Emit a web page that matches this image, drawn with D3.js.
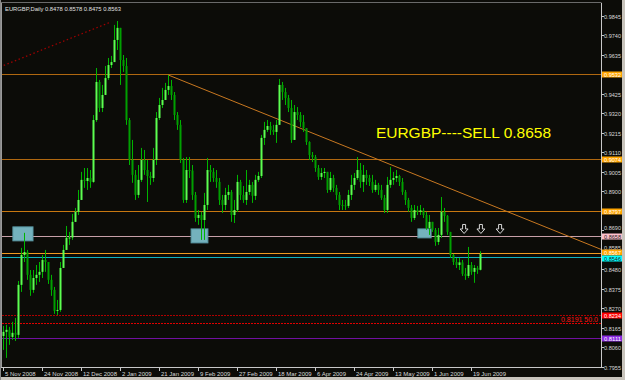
<!DOCTYPE html>
<html>
<head>
<meta charset="utf-8">
<script src="https://cdn.jsdelivr.net/npm/d3@7"></script>
<style>
  html, body { margin: 0; padding: 0; background: #0c0c08; }
  svg { display: block; }
  text { font-family: "Liberation Sans", Arial, sans-serif; }
</style>
</head>
<body>
<svg id="chart" width="625" height="380"></svg>
<script>
var symbol = "EURGBP,Daily";

var opens = [
0.8122,0.8144,0.8155,0.8117,0.8139,0.8128,0.8397,0.8558,0.8574,0.8451,
0.8370,0.8434,0.8451,0.8467,0.8531,0.8520,0.8424,0.8370,0.8257,0.8262,
0.8488,0.8585,0.8650,0.8652,0.8736,0.8790,0.8854,0.8962,0.8956,0.8972,
0.8951,0.9284,0.9489,0.9349,0.9419,0.9510,0.9580,0.9596,0.9715,0.9780,
0.9607,0.9575,0.9284,0.9069,0.8989,0.8881,0.8962,0.9069,0.9015,0.8983,
0.8972,0.9069,0.9295,0.9365,0.9392,0.9446,0.9467,0.9419,0.9311,0.9258,
0.9069,0.8854,0.9015,0.9012,0.8881,0.8757,0.8773,0.8746,0.8827,0.9015,
0.9005,0.8972,0.8951,0.8854,0.8827,0.8881,0.8897,0.8773,0.8800,0.8951,
0.8881,0.8854,0.8897,0.8935,0.8876,0.8962,0.8983,0.9188,0.9231,0.9252,
0.9231,0.9220,0.9258,0.9473,0.9435,0.9403,0.9349,0.9177,0.9327,0.9311,
0.9274,0.9241,0.9166,0.9096,0.9085,0.9026,0.8978,0.8999,0.9005,0.8908,
0.8972,0.8919,0.8881,0.8827,0.8825,0.8822,0.8881,0.8935,0.8972,0.9015,
0.8951,0.8989,0.8972,0.8951,0.8908,0.8935,0.8908,0.8865,0.8800,0.8935,
0.8962,0.8972,0.8983,0.8951,0.8897,0.8854,0.8811,0.8757,0.8800,0.8790,
0.8798,0.8773,0.8703,0.8736,0.8693,0.8628,0.8666,0.8790,0.8768,0.8682,
0.8558,0.8520,0.8504,0.8518,0.8456,0.8445,0.8504,0.8467,0.8488,0.8478];

var highs = [
0.8176,0.8182,0.8171,0.8198,0.8219,0.8418,0.8596,0.8677,0.8585,0.8477,
0.8477,0.8504,0.8520,0.8558,0.8585,0.8520,0.8451,0.8386,0.8316,0.8520,
0.8612,0.8714,0.8682,0.8779,0.8811,0.8908,0.9005,0.9026,0.9026,0.9015,
0.9311,0.9564,0.9500,0.9473,0.9575,0.9618,0.9629,0.9796,0.9817,0.9780,
0.9634,0.9618,0.9295,0.9177,0.9015,0.9042,0.9134,0.9123,0.9069,0.9005,
0.9134,0.9327,0.9403,0.9457,0.9484,0.9527,0.9500,0.9435,0.9327,0.9284,
0.9080,0.9085,0.9085,0.9042,0.8897,0.8800,0.8790,0.8892,0.9080,0.9042,
0.9026,0.9015,0.8972,0.8881,0.8919,0.8935,0.8908,0.8854,0.8989,0.8962,
0.8929,0.9015,0.8962,0.8951,0.8989,0.9005,0.9204,0.9274,0.9284,0.9274,
0.9258,0.9284,0.9505,0.9489,0.9457,0.9419,0.9392,0.9365,0.9354,0.9327,
0.9311,0.9241,0.9170,0.9112,0.9096,0.9042,0.9026,0.9026,0.9005,0.9005,
0.8989,0.8935,0.8897,0.8854,0.8854,0.8908,0.8989,0.8999,0.9085,0.9053,
0.9042,0.9015,0.8989,0.8989,0.8962,0.8946,0.8935,0.8881,0.8978,0.9032,
0.9005,0.9015,0.8989,0.8972,0.8908,0.8865,0.8827,0.8827,0.8822,0.8827,
0.8811,0.8790,0.8773,0.8736,0.8703,0.8703,0.8870,0.8811,0.8773,0.8682,
0.8564,0.8542,0.8542,0.8531,0.8488,0.8601,0.8520,0.8504,0.8499,0.8578];

var lows = [
0.8047,0.8004,0.8074,0.8101,0.8095,0.8112,0.8359,0.8520,0.8424,0.8338,
0.8354,0.8397,0.8413,0.8434,0.8467,0.8402,0.8338,0.8241,0.8235,0.8252,
0.8488,0.8585,0.8612,0.8639,0.8736,0.8773,0.8854,0.8919,0.8908,0.8919,
0.8946,0.9274,0.9327,0.9327,0.9419,0.9500,0.9564,0.9596,0.9661,0.9473,
0.9543,0.9258,0.9042,0.8946,0.8854,0.8865,0.8951,0.8989,0.8843,0.8935,
0.8951,0.9042,0.9284,0.9349,0.9392,0.9419,0.9392,0.9284,0.9231,0.9053,
0.8838,0.8838,0.8972,0.8854,0.8736,0.8720,0.8639,0.8639,0.8800,0.8951,
0.8951,0.8919,0.8827,0.8784,0.8800,0.8854,0.8736,0.8730,0.8790,0.8854,
0.8838,0.8827,0.8881,0.8838,0.8854,0.8951,0.8972,0.9150,0.9220,0.9204,
0.9204,0.9161,0.9258,0.9392,0.9365,0.9327,0.9161,0.9177,0.9284,0.9247,
0.9220,0.9150,0.9069,0.9058,0.9005,0.8962,0.8962,0.8972,0.8892,0.8897,
0.8897,0.8854,0.8800,0.8800,0.8800,0.8811,0.8854,0.8908,0.8962,0.8919,
0.8897,0.8935,0.8929,0.8892,0.8897,0.8881,0.8854,0.8784,0.8784,0.8919,
0.8935,0.8951,0.8929,0.8881,0.8827,0.8790,0.8736,0.8746,0.8773,0.8773,
0.8757,0.8693,0.8666,0.8682,0.8607,0.8612,0.8650,0.8736,0.8666,0.8542,
0.8504,0.8488,0.8477,0.8445,0.8424,0.8434,0.8451,0.8408,0.8456,0.8475];

var closes = [
0.8144,0.8155,0.8117,0.8139,0.8128,0.8397,0.8558,0.8574,0.8451,0.8370,
0.8434,0.8451,0.8467,0.8531,0.8520,0.8424,0.8370,0.8257,0.8262,0.8488,
0.8585,0.8650,0.8652,0.8736,0.8790,0.8854,0.8962,0.8956,0.8972,0.8951,
0.9284,0.9489,0.9349,0.9419,0.9510,0.9580,0.9596,0.9715,0.9780,0.9607,
0.9575,0.9284,0.9069,0.8989,0.8881,0.8962,0.9069,0.9015,0.8983,0.8972,
0.9069,0.9295,0.9365,0.9392,0.9446,0.9467,0.9419,0.9311,0.9258,0.9069,
0.8854,0.9015,0.9012,0.8881,0.8757,0.8773,0.8746,0.8827,0.9015,0.9005,
0.8972,0.8951,0.8854,0.8827,0.8881,0.8897,0.8773,0.8800,0.8951,0.8881,
0.8854,0.8897,0.8935,0.8876,0.8962,0.8983,0.9188,0.9231,0.9252,0.9231,
0.9220,0.9258,0.9473,0.9435,0.9403,0.9349,0.9177,0.9327,0.9311,0.9274,
0.9241,0.9166,0.9096,0.9085,0.9026,0.8978,0.8999,0.9005,0.8908,0.8972,
0.8919,0.8881,0.8827,0.8825,0.8822,0.8881,0.8935,0.8972,0.9015,0.8951,
0.8989,0.8972,0.8951,0.8908,0.8935,0.8908,0.8865,0.8800,0.8935,0.8962,
0.8972,0.8983,0.8951,0.8897,0.8854,0.8811,0.8757,0.8800,0.8790,0.8798,
0.8773,0.8703,0.8736,0.8693,0.8628,0.8666,0.8790,0.8768,0.8682,0.8558,
0.8520,0.8504,0.8518,0.8456,0.8445,0.8504,0.8467,0.8488,0.8478,0.8563];

// price axis labels
var priceTicks = [0.9845,0.9740,0.9635,0.9530,0.9425,0.9320,0.9215,0.9110,0.9005,
  0.8900,0.8795,0.8690,0.8585,0.8480,0.8375,0.8270,0.8165,0.8060,0.7955];

// time axis labels, one every 13 bars
var dateTickBars = [0,13,26,39,52,65,78,91,104,117,130,143,156];
var dateTickLabels = ["5 Nov 2008","24 Nov 2008","12 Dec 2008","2 Jan 2009","21 Jan 2009",
  "9 Feb 2009","27 Feb 2009","18 Mar 2009","6 Apr 2009","24 Apr 2009","13 May 2009",
  "1 Jun 2009","19 Jun 2009"];

// horizontal lines drawn on the chart
var levelPrices = [0.9532,0.9074,0.8797,0.8658,0.8567,0.8546,0.8234,0.8111];
var levelColors = ["#b06810","#b06810","#c87810","#c8a0a8","#f09a20","#10b4c0","#b00000","#7010a0"];
var levelBoxColors = ["#ffa500","#ffa500","#ffa500","#ffc0cb","#ffa500","#00ffff","#ff0000","#8a2be2"];
var levelTextColors = ["#ffffff","#ffffff","#ffffff","#202020","#ffffff","#202020","#ffffff","#ffffff"];

// fibonacci 50% level and its base line
var fibLevel = 0.8191;
var fibLabel = "0.8191  50.0";
var fibLineBars = [-1, 36];
var fibLinePrices = [0.9570, 0.9812];

// resistance trendline (ray)
var trendBars = [55, 144];
var trendPrices = [0.9527, 0.8948];

// highlighted zones
var zoneBars0 = [3.3, 62.7, 138.3];
var zoneBars1 = [10, 68.3, 142.7];
var zoneTop = [0.8709, 0.8698, 0.8698];
var zoneBottom = [0.8634, 0.8623, 0.8650];

// sell arrows
var arrowBars = [153.7, 159.3, 165.7];
var arrowPrice = 0.8722;

var note = "EURGBP----SELL 0.8658";
var noteBar = 124.3;
var notePrice = 0.9190;

var W = 625, H = 380;
var pL = 2, pR = 601, pT = 3, pB = 367;

var svg = d3.select("#chart");
var x = d3.scaleLinear().domain([0, 160]).range([3, 483]);
var y = d3.scaleLinear().domain([0.7955, 0.9845]).range([367, 15.8]);

svg.append("rect").attr("width", W).attr("height", H).attr("fill", "#0c0c08");

svg.append("defs").append("clipPath").attr("id", "plot")
  .append("rect").attr("x", pL).attr("y", pT)
  .attr("width", pR - pL).attr("height", pB - pT);

var plot = svg.append("g").attr("clip-path", "url(#plot)");

// horizontal levels
levelPrices.forEach(function(p, i){
  var yy = Math.round(y(p)) + 0.5;
  plot.append("line")
    .attr("x1", pL).attr("x2", pR)
    .attr("y1", yy).attr("y2", yy)
    .attr("stroke", levelColors[i])
    .attr("shape-rendering", "crispEdges")
    .attr("stroke-dasharray", i == 6 ? "2,1" : null);
});

var fy = Math.round(y(fibLevel)) + 0.5;
plot.append("line")
  .attr("x1", pL).attr("x2", pR).attr("y1", fy).attr("y2", fy)
  .attr("stroke", "#e00000").attr("stroke-dasharray", "2,1")
  .attr("shape-rendering", "crispEdges");

plot.append("text")
  .attr("x", 598).attr("y", fy - 1.5)
  .attr("text-anchor", "end")
  .attr("font-size", 7)
  .attr("fill", "#ff1010")
  .text(fibLabel);

plot.append("line")
  .attr("x1", x(fibLineBars[0])).attr("y1", y(fibLinePrices[0]))
  .attr("x2", x(fibLineBars[1])).attr("y2", y(fibLinePrices[1]))
  .attr("stroke", "#a00000").attr("stroke-width", 1.2)
  .attr("stroke-dasharray", "1.5,2.5");

// zones
zoneBars0.forEach(function(b, i){
  plot.append("rect")
    .attr("x", x(b)).attr("y", y(zoneTop[i]))
    .attr("width", x(zoneBars1[i]) - x(b))
    .attr("height", y(zoneBottom[i]) - y(zoneTop[i]))
    .attr("fill", "#74b2bd")
    .attr("stroke", "#5b9aa6");
});

// trendline ray to the right edge
var slope = (trendPrices[1] - trendPrices[0]) / (trendBars[1] - trendBars[0]);
var endBar = x.invert(pR);
plot.append("line")
  .attr("x1", x(trendBars[0])).attr("y1", y(trendPrices[0]))
  .attr("x2", pR).attr("y2", y(trendPrices[0] + slope * (endBar - trendBars[0])))
  .attr("stroke", "#c87820");

// candles
var bars = d3.range(closes.length);
var g = plot.selectAll("g.bar").data(bars).enter().append("g").attr("class", "bar");

g.append("line")
  .attr("x1", function(i){ return Math.round(x(i)) + 0.5; })
  .attr("x2", function(i){ return Math.round(x(i)) + 0.5; })
  .attr("y1", function(i){ return y(highs[i]); })
  .attr("y2", function(i){ return y(lows[i]); })
  .attr("stroke", "#00b400");

g.append("rect")
  .attr("x", function(i){ return Math.round(x(i)) - 0.5; })
  .attr("width", 2)
  .attr("y", function(i){ return y(Math.max(opens[i], closes[i])); })
  .attr("height", function(i){ return Math.max(1, Math.abs(y(opens[i]) - y(closes[i]))); })
  .attr("fill", function(i){ return closes[i] >= opens[i] ? "#5cff50" : "#00a000"; });

// sell arrows
arrowBars.forEach(function(b){
  var cx = x(b), t = y(arrowPrice);
  plot.append("path")
    .attr("d", "M" + (cx - 1.5) + "," + t + "h3v4.5h2.5l-4,4.5l-4,-4.5h2.5z")
    .attr("fill", "none")
    .attr("stroke", "#d8d8d8");
});

// text note
plot.append("text")
  .attr("x", x(noteBar)).attr("y", y(notePrice))
  .attr("font-size", 15.5)
  .attr("fill", "#ffff00")
  .text(note);

// header
svg.append("text")
  .attr("x", 5).attr("y", 10.5)
  .attr("font-size", 6)
  .attr("fill", "#e0e0e0")
  .attr("textLength", 116).attr("lengthAdjust", "spacingAndGlyphs")
  .text(symbol + "  " + [opens, highs, lows, closes].map(function(a){ return a[a.length - 1].toFixed(4); }).join(" "));

// frame
svg.append("line").attr("x1", 1.5).attr("x2", 1.5).attr("y1", pT).attr("y2", pB)
  .attr("stroke", "#9a9a9a");
svg.append("line").attr("x1", pR + 0.5).attr("x2", pR + 0.5).attr("y1", pT).attr("y2", pB + 0.5)
  .attr("stroke", "#c8c8c8");
svg.append("line").attr("x1", 1).attr("x2", pR + 0.5).attr("y1", pB + 0.5).attr("y2", pB + 0.5)
  .attr("stroke", "#c8c8c8");
svg.append("line").attr("x1", 1).attr("x2", pR + 0.5).attr("y1", pT - 0.5).attr("y2", pT - 0.5)
  .attr("stroke", "#6a6a6a");

// price axis
var pa = svg.append("g");
priceTicks.forEach(function(p){
  var yy = Math.round(y(p)) + 0.5;
  pa.append("line").attr("x1", pR).attr("x2", pR + 3).attr("y1", yy).attr("y2", yy)
    .attr("stroke", "#c8c8c8");
  // skip labels that sit under a highlighted level box
  var near = d3.min(levelPrices, function(l){ return Math.abs(y(l) - y(p)); });
  if (near < 2) return;
  var ty = near < 6 ? yy - 3 : yy;
  pa.append("text").attr("x", pR + 3).attr("y", ty + 2)
    .attr("font-size", 5.8).attr("fill", "#d8d8d8")
    .attr("textLength", 17).attr("lengthAdjust", "spacingAndGlyphs")
    .text(p.toFixed(4));
});

// level boxes, nudged apart when two levels sit close together
var boxY = levelPrices.map(function(p){ return Math.round(y(p)) + 0.5; });
for (var k = 1; k < boxY.length; k++) {
  if (boxY[k] - boxY[k - 1] < 6) {
    var mid = (boxY[k] + boxY[k - 1]) / 2;
    boxY[k - 1] = mid - 3;
    boxY[k] = mid + 3;
  }
}
levelPrices.forEach(function(p, i){
  var yy = boxY[i];
  pa.append("rect").attr("x", pR + 1).attr("y", yy - 3).attr("width", 21).attr("height", 6)
    .attr("fill", levelBoxColors[i]);
  pa.append("text").attr("x", pR + 3).attr("y", yy + 2)
    .attr("font-size", 5.6).attr("fill", levelTextColors[i])
    .attr("textLength", 17).attr("lengthAdjust", "spacingAndGlyphs")
    .text(p.toFixed(4));
});

// time axis
var ta = svg.append("g");
dateTickBars.forEach(function(b, i){
  var xx = Math.round(x(b)) + 0.5;
  ta.append("line").attr("x1", xx).attr("x2", xx).attr("y1", pB).attr("y2", pB + 4)
    .attr("stroke", "#c8c8c8");
  ta.append("text").attr("x", xx + 1.5).attr("y", pB + 8.5)
    .attr("font-size", 6).attr("fill", "#d8d8d8").text(dateTickLabels[i]);
});

// window edges
svg.append("rect").attr("x", 0).attr("y", 377).attr("width", W).attr("height", 3).attr("fill", "#c8c4bc");
svg.append("rect").attr("x", 622).attr("y", 0).attr("width", 3).attr("height", H).attr("fill", "#c8c4bc");
svg.append("rect").attr("x", 0).attr("y", 0).attr("width", 1).attr("height", H).attr("fill", "#8a8a8a");
</script>
</body>
</html>
